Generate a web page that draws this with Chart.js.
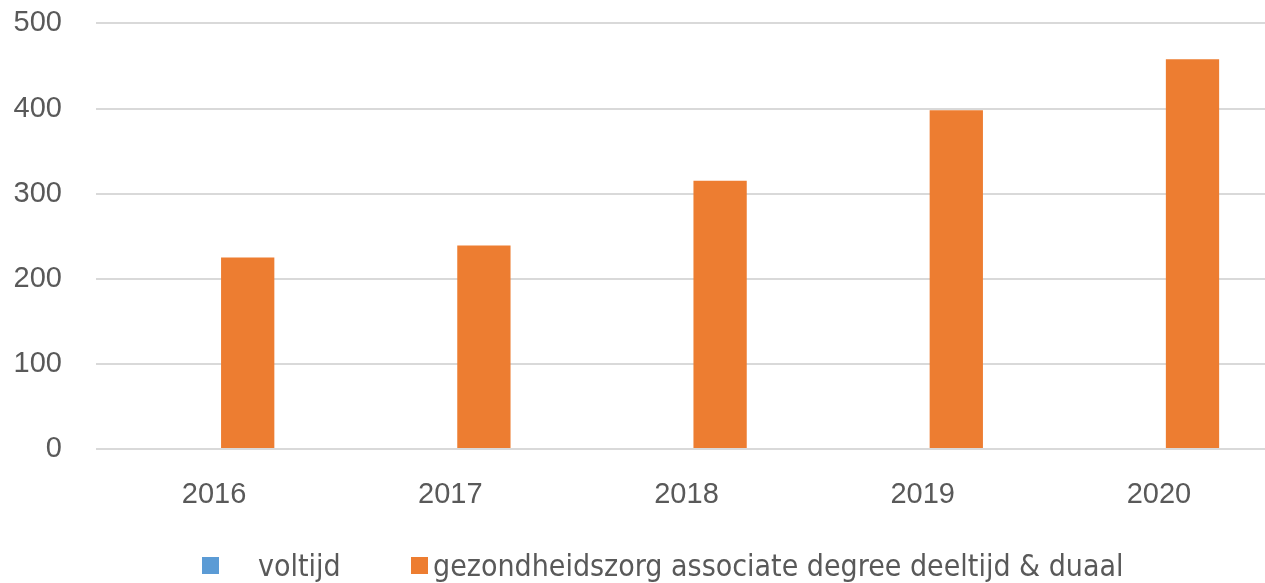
<!DOCTYPE html>
<html>
<head>
<meta charset="utf-8">
<script src="https://cdn.jsdelivr.net/npm/chart.js"></script>
<style>
  html, body { margin: 0; padding: 0; background: #fff; overflow: hidden; }
  #wrap { position: relative; width: 1290px; height: 611px; margin-top: -28px; }
  #legend { position: absolute; left: 0; top: 577px; height: 34px; color: #595959;
            font-family: "DejaVu Sans Condensed", "Liberation Sans Narrow", sans-serif; font-size: 30px; }
  .item { position: absolute; top: 0; white-space: nowrap; line-height: 34px; }
  .box { position: absolute; width: 17px; height: 17px; top: 8px; }
</style>
</head>
<body>
<div id="wrap">
  <canvas id="chart" width="1290" height="611"></canvas>
  <div id="legend"></div>
</div>
<script>
const years = ['2016', '2017', '2018', '2019', '2020'];
const voltijd = [0, 0, 0, 0, 0];
const deeltijdDuaal = [225, 239, 315, 398, 458];
const yTicks = [0, 100, 200, 300, 400, 500];

const seriesNames = ['voltijd', 'gezondheidszorg associate degree deeltijd & duaal'];
const seriesColors = ['#5B9BD5', '#ED7D31'];

const tickFont = { family: '"Liberation Sans", Arial, sans-serif', size: 29 };

new Chart(document.getElementById('chart'), {
  type: 'bar',
  data: {
    labels: years,
    datasets: [
      { label: seriesNames[0], data: voltijd, backgroundColor: seriesColors[0] },
      { label: seriesNames[1], data: deeltijdDuaal, backgroundColor: seriesColors[1] }
    ]
  },
  options: {
    responsive: false,
    animation: false,
    categoryPercentage: 0.569,
    barPercentage: 0.793,
    layout: { padding: { top: 22, right: 13, left: 0, bottom: 0 } },
    plugins: { legend: { display: false }, tooltip: { enabled: false } },
    scales: {
      x: {
        grid: { display: false },
        border: { display: false },
        ticks: { color: '#595959', font: tickFont, padding: 21 },
        afterFit: s => { s.height = 134; }
      },
      y: {
        min: 0,
        max: 500,
        afterBuildTicks: s => { s.ticks = yTicks.map(v => ({ value: v })); },
        grid: { color: '#D9D9D9', lineWidth: 2, drawTicks: false },
        border: { display: false },
        ticks: { color: '#595959', font: tickFont, padding: 34 },
        afterFit: s => { s.width = 96; }
      }
    }
  }
});

// legend laid out like the original (wide gap after the first marker)
const legend = document.getElementById('legend');
const boxX = [202, 411];
const textX = [258, 433];
seriesNames.forEach((name, i) => {
  const box = document.createElement('div');
  box.className = 'box';
  box.style.left = boxX[i] + 'px';
  box.style.background = seriesColors[i];
  legend.appendChild(box);
  const t = document.createElement('div');
  t.className = 'item';
  t.style.left = textX[i] + 'px';
  t.textContent = name;
  legend.appendChild(t);
});
</script>
</body>
</html>
